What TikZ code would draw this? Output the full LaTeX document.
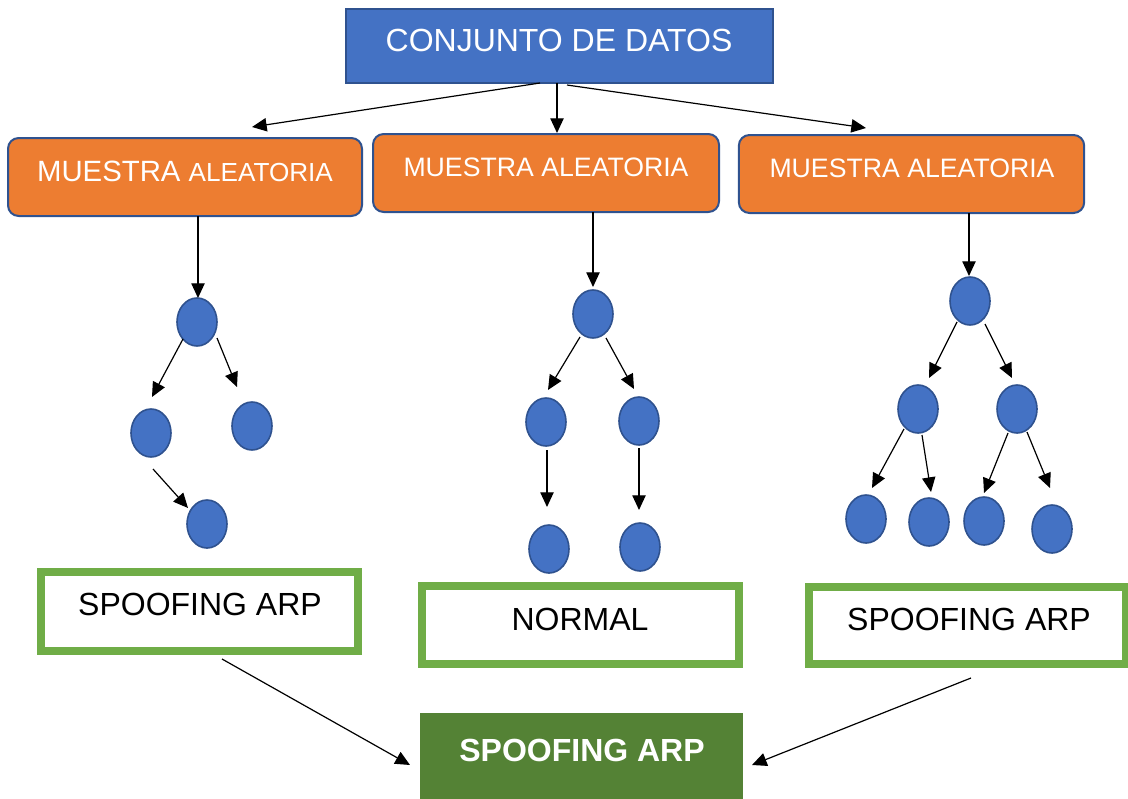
\documentclass[tikz,border=0pt]{standalone}
\usepackage{fontspec}
\setmainfont{Liberation Sans}
\usetikzlibrary{shapes.geometric,arrows.meta}
\definecolor{blueA}{HTML}{4472C4}
\definecolor{blueB}{HTML}{2F528F}
\definecolor{orangeA}{HTML}{ED7D31}
\definecolor{greenA}{HTML}{70AD47}
\definecolor{greenB}{HTML}{548235}
\begin{document}
\begin{tikzpicture}[x=0.75pt,y=-0.75pt,
  topbox/.style={draw=blueB,fill=blueA,line width=1.2pt,rectangle,inner sep=0pt},
  samplebox/.style={draw=blueB,fill=orangeA,line width=1.5pt,rectangle,rounded corners=8pt,inner sep=0pt},
  resbox/.style={draw=greenA,fill=white,line width=6pt,rectangle,inner sep=0pt},
  finalbox/.style={draw=none,fill=greenB,rectangle,inner sep=0pt},
  leaf/.style={ellipse,draw=blueB,fill=blueA,line width=1.2pt,minimum width=30pt,minimum height=36pt,inner sep=0pt},
  wtxt/.style={text=white,anchor=base,inner sep=0pt},
  btxt/.style={text=black,anchor=base,inner sep=0pt,font=\fontsize{24}{28}\selectfont},
  arr/.style={-{Triangle[length=11pt,width=10pt]},line width=0.9pt,black}]
\useasboundingbox (0,0) rectangle (1128,799);

% boxes
\node[topbox,minimum width=320pt,minimum height=55.5pt] (top) at (559.5,46) {};
\node[wtxt,font=\fontsize{24}{28}\selectfont] (toptxt) at (559,52) {CONJUNTO DE DATOS};

\node[samplebox,minimum width=265.5pt,minimum height=58.5pt] (s1) at (185,177) {};
\node[wtxt] (s1txt) at (185,181) {\fontsize{22}{26}\selectfont MUESTRA \fontsize{19.6}{24}\selectfont ALEATORIA};
\node[samplebox,minimum width=259.5pt,minimum height=58.5pt] (s2) at (546,173) {};
\node[wtxt,font=\fontsize{20}{24}\selectfont] (s2txt) at (546,176) {MUESTRA ALEATORIA};
\node[samplebox,minimum width=259pt,minimum height=58.5pt] (s3) at (911.5,174) {};
\node[wtxt,font=\fontsize{20}{24}\selectfont] (s3txt) at (912,177) {MUESTRA ALEATORIA};

\node[resbox,minimum width=237.75pt,minimum height=59.25pt] (r1) at (199.5,611.5) {};
\node[btxt] (r1txt) at (200,615) {SPOOFING ARP};
\node[resbox,minimum width=237.75pt,minimum height=58.5pt] (r2) at (580.5,625) {};
\node[btxt] (r2txt) at (580,630) {NORMAL};
\node[resbox,minimum width=237.75pt,minimum height=57.75pt] (r3) at (967,625.5) {};
\node[btxt] (r3txt) at (969,630) {SPOOFING ARP};

\node[finalbox,minimum width=242pt,minimum height=64.5pt] (fin) at (581.5,756) {};
\node[wtxt,font=\bfseries\fontsize{24}{28}\selectfont] (fintxt) at (582,761) {SPOOFING ARP};

% tree 1
\node[leaf] (a0) at (197,322) {};
\node[leaf] (a1) at (151,433) {};
\node[leaf] (a2) at (252,426) {};
\node[leaf] (a3) at (207,524) {};
% tree 2
\node[leaf] (b0) at (593,314) {};
\node[leaf] (b1) at (546,422) {};
\node[leaf] (b2) at (639,421) {};
\node[leaf] (b3) at (549,549) {};
\node[leaf] (b4) at (640,547) {};
% tree 3
\node[leaf] (c0) at (970,301) {};
\node[leaf] (c1) at (918,409) {};
\node[leaf] (c2) at (1017,409) {};
\node[leaf] (c3) at (866,519) {};
\node[leaf] (c4) at (929,522) {};
\node[leaf] (c5) at (984,521) {};
\node[leaf] (c6) at (1052,529) {};

% connector end points
\coordinate (t1s) at (540,83);  \coordinate (t1e) at (252,127);
\coordinate (t2s) at (557,83);  \coordinate (t2e) at (557,133);
\coordinate (t3s) at (567,85);  \coordinate (t3e) at (866,128);

\coordinate (p1s) at (198,216); \coordinate (p1e) at (198,298);
\coordinate (p2s) at (183,339); \coordinate (p2e) at (152,397);
\coordinate (p3s) at (217,338); \coordinate (p3e) at (237,387);
\coordinate (p4s) at (153,469); \coordinate (p4e) at (188,508);

\coordinate (q1s) at (593,212); \coordinate (q1e) at (593,287);
\coordinate (q2s) at (580,337); \coordinate (q2e) at (548,390);
\coordinate (q3s) at (606,338); \coordinate (q3e) at (634,389);
\coordinate (q4s) at (547,450); \coordinate (q4e) at (547,507);
\coordinate (q5s) at (639,448); \coordinate (q5e) at (639,510);

\coordinate (u1s) at (969,213); \coordinate (u1e) at (969,276);
\coordinate (u2s) at (957,322); \coordinate (u2e) at (929,378);
\coordinate (u3s) at (985,324); \coordinate (u3e) at (1012,378);
\coordinate (u4s) at (904,429); \coordinate (u4e) at (872,488);
\coordinate (u5s) at (922,435); \coordinate (u5e) at (931,492);
\coordinate (u6s) at (1008,433); \coordinate (u6e) at (984,493);
\coordinate (u7s) at (1027,432); \coordinate (u7e) at (1050,488);

\coordinate (f1s) at (222,659); \coordinate (f1e) at (410,765);
\coordinate (f2s) at (971,678); \coordinate (f2e) at (752,765);

\foreach \c in {t1,t2,t3,p1,p2,p3,p4,q1,q2,q3,q4,q5,u1,u2,u3,u4,u5,u6,u7,f1,f2}
  \draw[arr] (\c s) -- (\c e);
\end{tikzpicture}
\end{document}
